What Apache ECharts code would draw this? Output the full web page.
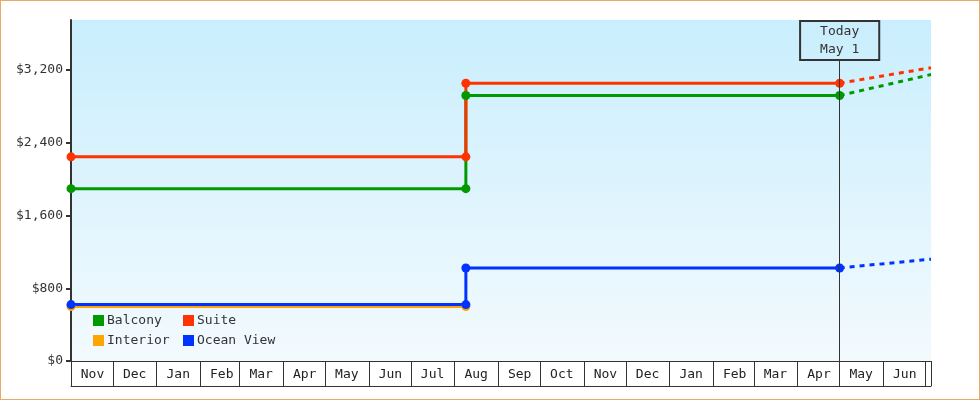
<!DOCTYPE html>
<html>
<head>
<meta charset="utf-8">
<script src="https://cdn.jsdelivr.net/npm/echarts@6/dist/echarts.min.js"></script>
<style>
html,body{margin:0;padding:0;background:#fff;}
#wrap{width:980px;height:400px;box-sizing:border-box;border:1px solid #e9aa68;}
#chart{width:978px;height:398px;}
</style>
</head>
<body>
<div id="wrap"><div id="chart"></div></div>
<script>
const monthNames = ['Jan','Feb','Mar','Apr','May','Jun','Jul','Aug','Sep','Oct','Nov','Dec'];
const axisStart = '2022-11-01';
const axisEnd = '2024-07-05';
const todayDate = '2024-05-01';
const todayLabel = 'Today\nMay 1';
const yTicks = [0, 800, 1600, 2400, 3200];
const yMax = 3750;

const balcony = [['2022-11-01', 1895], ['2023-08-09', 1895], ['2023-08-09', 2920], ['2024-05-01', 2920]];
const balconyForecast = [['2024-05-01', 2920], ['2024-07-05', 3150]];
const suite = [['2022-11-01', 2245], ['2023-08-09', 2245], ['2023-08-09', 3055], ['2024-05-01', 3055]];
const suiteForecast = [['2024-05-01', 3055], ['2024-07-05', 3225]];
const interior = [['2022-11-01', 598], ['2023-08-09', 598]];
const oceanView = [['2022-11-01', 620], ['2023-08-09', 620], ['2023-08-09', 1023], ['2024-05-01', 1023]];
const oceanViewForecast = [['2024-05-01', 1023], ['2024-07-05', 1120]];

const colors = { Balcony: '#009a00', Suite: '#ff3300', Interior: '#ffa500', 'Ocean View': '#0033ff' };
const FONT = 'DejaVu Sans Mono';
const DAY = 86400000;
const endMs = echarts.time.parse(axisEnd).getTime();

function solid(name, data, extra) {
  return Object.assign({
    name: name, type: 'line', data: data, color: colors[name],
    symbol: 'circle', symbolSize: 9, showSymbol: true,
    lineStyle: { width: 3, color: colors[name] },
    itemStyle: { color: colors[name] },
    emphasis: { disabled: true }, animation: false, z: 3
  }, extra || {});
}
function dashed(name, data) {
  return {
    name: name, type: 'line', data: data, color: colors[name],
    symbol: 'none', showSymbol: false,
    lineStyle: { width: 3, type: [5, 5], color: colors[name] },
    emphasis: { disabled: true }, animation: false, z: 2
  };
}

const chart = echarts.init(document.getElementById('chart'));
const legendText = { fontFamily: FONT, fontSize: 13, color: '#333', padding: [0, 0, 0, -2] };
chart.setOption({
  animation: false,
  grid: {
    left: 70, right: 48, top: 19, bottom: 38, show: true, borderWidth: 0,
    backgroundColor: new echarts.graphic.LinearGradient(0, 0, 0, 1, [
      { offset: 0, color: '#c9eefd' }, { offset: 1, color: '#f3fafe' }
    ])
  },
  legend: [
    { data: ['Balcony', 'Interior'], orient: 'vertical', left: 87, top: 308, itemWidth: 11, itemHeight: 11,
      itemGap: 7, icon: 'rect', textStyle: legendText, selectedMode: false },
    { data: ['Suite', 'Ocean View'], orient: 'vertical', left: 177, top: 308, itemWidth: 11, itemHeight: 11,
      itemGap: 7, icon: 'rect', textStyle: legendText, selectedMode: false }
  ],
  xAxis: [
    {
      type: 'time', min: axisStart, max: axisEnd, position: 'bottom',
      splitNumber: 20, minInterval: 28 * DAY, maxInterval: 31 * DAY,
      axisLine: { show: true, lineStyle: { color: '#333', width: 1 } },
      axisTick: { show: true, length: 25, lineStyle: { color: '#333', width: 1 } },
      splitLine: { show: false },
      axisLabel: {
        show: true, color: '#222', fontFamily: FONT, fontSize: 13, margin: 7,
        align: 'center', padding: [0, 0, 0, 43], hideOverlap: false,
        showMinLabel: true, showMaxLabel: true,
        formatter: function (v) {
          if (v + 28 * DAY > endMs) return '';
          return monthNames[new Date(v).getMonth()];
        }
      }
    },
    {
      type: 'time', min: axisStart, max: axisEnd, position: 'bottom', offset: 25,
      axisLine: { show: true, lineStyle: { color: '#333', width: 1 } },
      axisTick: { show: false }, axisLabel: { show: false }, splitLine: { show: false }
    }
  ],
  yAxis: {
    type: 'value', min: 0, max: yMax, interval: 800,
    axisLine: { show: true, lineStyle: { color: '#333', width: 2 } },
    axisTick: { show: true, length: 5, lineStyle: { color: '#333', width: 2 }, customValues: yTicks },
    splitLine: { show: false },
    axisLabel: {
      color: '#333', fontFamily: FONT, fontSize: 13, margin: 8, customValues: yTicks,
      formatter: function (v) { return '$' + v.toLocaleString('en-US'); }
    }
  },
  series: [
    dashed('Balcony', balconyForecast),
    dashed('Suite', suiteForecast),
    dashed('Ocean View', oceanViewForecast),
    solid('Interior', interior),
    solid('Ocean View', oceanView),
    solid('Balcony', balcony, {
      markLine: {
        silent: true, symbol: 'none', animation: false,
        lineStyle: { color: '#333', width: 1, type: 'solid' },
        label: {
          show: true, position: 'end', distance: 0, formatter: todayLabel,
          fontFamily: FONT, fontSize: 13, lineHeight: 18, color: '#333',
          borderColor: '#333', borderWidth: 1, padding: [2, 20, 1, 20], backgroundColor: 'transparent'
        },
        data: [[{ coord: [todayDate, 0] }, { coord: [todayDate, 3310] }]]
      }
    }),
    solid('Suite', suite)
  ]
});
</script>
</body>
</html>
